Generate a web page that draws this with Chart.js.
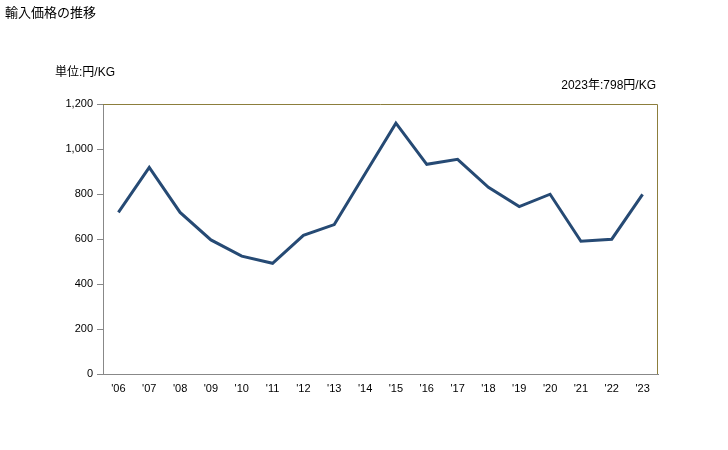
<!DOCTYPE html>
<html><head><meta charset="utf-8">
<script src="https://cdn.jsdelivr.net/npm/chart.js@4"></script>
<style>html,body{margin:0;padding:0;background:#fff;}#wrap{width:728px;height:450px;position:relative;}</style>
</head><body><div id="wrap"><canvas id="c" width="728" height="450"></canvas></div>
<script>
const categories = ["'06","'07","'08","'09","'10","'11","'12","'13","'14","'15","'16","'17","'18","'19","'20","'21","'22","'23"];
const prices = [718, 918, 718, 596, 524, 492, 616, 664, 890, 1115, 932, 954, 830, 744, 799, 590, 599, 798];
const yTicks = [0, 200, 400, 600, 800, 1000, 1200];
const titleText = "輸入価格の推移";
const unitText = "単位:円/KG";
const noteText = "2023年:798円/KG";

const FONT = "'Liberation Sans','Noto Sans CJK JP',sans-serif";
const textPlugin = {
  id: 'texts',
  afterDraw(chart) {
    const ctx = chart.ctx, a = chart.chartArea;
    ctx.save();
    ctx.fillStyle = '#000';
    ctx.textBaseline = 'middle';
    ctx.font = "13px 'Noto Sans CJK JP',sans-serif";
    ctx.textAlign = 'left';
    ctx.fillText(titleText, 5, 12);
    ctx.font = "12px " + FONT;
    ctx.fillText(unitText, 55, 73);
    ctx.textAlign = 'right';
    ctx.fillText(noteText, a.right - 2, 86);
    // olive top & right border
    ctx.strokeStyle = '#8c7e3c';
    ctx.lineWidth = 1;
    ctx.beginPath();
    ctx.moveTo(a.left, a.top + 0.5);
    ctx.lineTo(a.right - 0.5, a.top + 0.5);
    ctx.lineTo(a.right - 0.5, a.bottom);
    ctx.stroke();
    ctx.restore();
  }
};

new Chart(document.getElementById('c'), {
  type: 'line',
  data: {
    labels: categories,
    datasets: [{
      data: prices,
      borderColor: '#264a74',
      borderWidth: 3,
      pointRadius: 0,
      tension: 0,
      fill: false
    }]
  },
  options: {
    responsive: false,
    animation: false,
    layout: { padding: { left: 0, right: 70, top: 104, bottom: 0 } },
    plugins: { legend: { display: false }, tooltip: { enabled: false } },
    scales: {
      x: {
        offset: true,
        grid: { display: false, drawTicks: false },
        border: { display: true, color: '#888888', width: 1 },
        ticks: { color: '#000', font: { size: 11, family: FONT }, padding: 8, maxRotation: 0, autoSkip: false },
        afterFit(s) { s.height = 76; }
      },
      y: {
        min: 0, max: 1200,
        afterBuildTicks(s) { s.ticks = yTicks.map(v => ({ value: v })); },
        grid: { display: true, drawOnChartArea: false, drawTicks: true, tickLength: 6, color: '#888888' },
        border: { display: true, color: '#888888', width: 1 },
        ticks: { color: '#000', font: { size: 11, family: FONT }, padding: 4,
          callback: v => v.toLocaleString('en-US') },
        afterFit(s) { s.width = 103; }
      }
    }
  },
  plugins: [textPlugin]
});
</script></body></html>
